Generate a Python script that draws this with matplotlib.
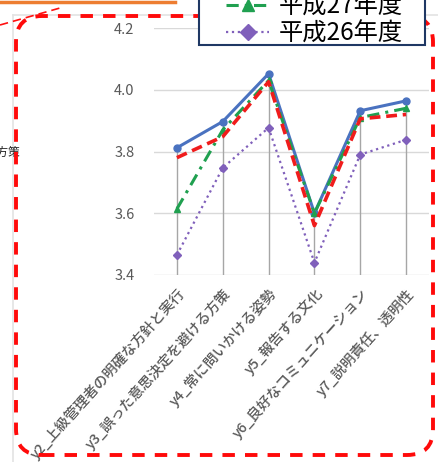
import matplotlib
matplotlib.use("Agg")
import matplotlib.pyplot as plt
from matplotlib.patches import FancyBboxPatch, Rectangle
from matplotlib.lines import Line2D

plt.rcParams['font.family'] = ['Noto Sans CJK JP', 'DejaVu Sans']

# data
categories = ["y2_上級管理者の明確な方針と実行", "y3_誤った意思決定を避ける方策",
              "y4_常に問いかける姿勢", "y5_報告する文化",
              "y6_良好なコミュニケーション", "y7_説明責任、透明性"]
h29 = [3.812, 3.897, 4.052, 3.600, 3.932, 3.964]
h28 = [3.780, 3.848, 4.026, 3.560, 3.906, 3.920]
h27 = [3.614, 3.870, 4.030, 3.600, 3.910, 3.940]
h26 = [3.465, 3.747, 3.877, 3.440, 3.790, 3.838]
yticks = [3.4, 3.6, 3.8, 4.0, 4.2]
series_names = ["平成29年度", "平成28年度", "平成27年度", "平成26年度"]

W, H = 438, 462
fig = plt.figure(figsize=(W / 100, H / 100), dpi=100)

def px(x, y):
    # pixel (top-left origin) -> figure fraction
    return x / W, 1 - y / H

# axes placed to match the screenshot
x0, ytop = px(154, 28)
x1, ybot = px(429, 275)
ax = fig.add_axes([x0, ybot, x1 - x0, ytop - ybot])

xs = list(range(len(categories)))
ax.set_xlim(-0.5, len(categories) - 0.5)
ax.set_ylim(3.4, 4.2)
ax.set_yticks(yticks)
ax.set_yticklabels([f"{v:.1f}" for v in yticks])
ax.yaxis.grid(True, color='#d9d9d9', lw=1)
ax.set_axisbelow(True)
for s in ax.spines.values():
    s.set_visible(False)
ax.tick_params(length=0)
ax.tick_params(axis='y', pad=14, labelsize=10.5, labelcolor='#595959')
ax.set_xticks(xs)
ax.set_xticklabels(categories, rotation=48, ha='right', va='top', rotation_mode='anchor',
                   fontsize=10.3, color='#595959', fontweight='medium')
ax.tick_params(axis='x', pad=8)

# drop lines from top value to axis
tops = [max(v) for v in zip(h29, h28, h27, h26)]
ax.vlines(xs, 3.4, tops, color='#a6a6a6', lw=1, zorder=1)

l26, = ax.plot(xs, h26, color='#8060bb', ls=':', lw=1.6, marker='D', ms=4, zorder=2)
l29, = ax.plot(xs, h29, color='#4a72c0', ls='-', lw=2.2, marker='o', ms=5, zorder=3)
l27, = ax.plot(xs, h27, color='#20a050', ls=(0, (4, 2, 1, 2)), lw=2.2, marker='^', ms=4, zorder=4)
l28, = ax.plot(xs, h28, color='#f01c1c', ls=(0, (3, 1.6)), lw=2.6, zorder=5)

# slide decorations around the chart
fig.add_artist(Line2D([0, 175 / W], [1 - 1.5 / H, 1 - 1.5 / H], color='#ed7d31', lw=2.5))
fig.add_artist(Line2D([13 / W, 13 / W], [0, 1 - 15 / H], color='#e3e3e3', lw=1.2))
fig.add_artist(Line2D([13 / W, 1], [1 - 15 / H, 1 - 15 / H], color='#e3e3e3', lw=1.2))
fig.text(20 / W, 1 - 152 / H, "避ける方策", ha='right', va='center', fontsize=8.5, color='#222222')
fig.add_artist(Line2D([0, 60 / W], [1 - 25 / H, 1 - 8 / H], color='#ff1010', lw=1.2, ls=(0, (5, 3))))

box = FancyBboxPatch((16, H - 455), 417, 439, boxstyle="round,pad=0,rounding_size=26",
                     transform=None, fill=False, edgecolor='#ff0a0a', lw=2.8,
                     ls=(0, (3.2, 2.6)), zorder=10)
fig.add_artist(box)

# legend box (upper entries are cut off by the screenshot)
frame = Rectangle((199, H - 45), 226, 60, transform=None, facecolor='white',
                  edgecolor='#1f3864', lw=1.5, zorder=19)
fig.add_artist(frame)
leg = fig.legend([l29, l28, l27, l26], series_names,
                 loc='lower right', bbox_to_anchor=px(403, 47), bbox_transform=fig.transFigure,
                 borderaxespad=0, fontsize=17.5, frameon=False, labelspacing=0.05,
                 handlelength=1.75, handletextpad=0.4, borderpad=0, markerscale=2)
leg.set_zorder(20)

fig.savefig("out.png", dpi=100)
